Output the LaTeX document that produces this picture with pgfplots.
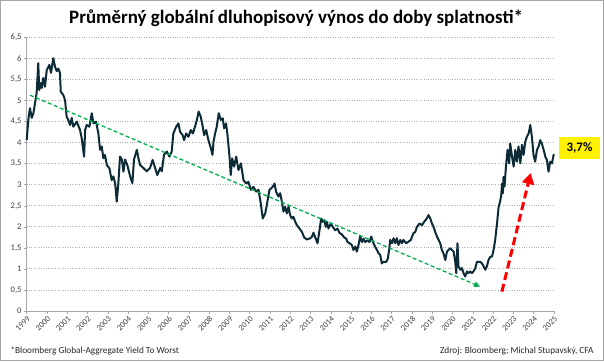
\documentclass[border=0pt]{standalone}
\usepackage{pgfplots}
\pgfplotsset{compat=1.18}
\usepackage{fontspec}
\setmainfont{Carlito}
\usetikzlibrary{arrows.meta}
\definecolor{linec}{RGB}{13,43,54}
\definecolor{gridc}{RGB}{175,175,175}
\definecolor{axc}{RGB}{166,166,166}
\definecolor{txtc}{RGB}{64,64,64}
\definecolor{grn}{RGB}{0,176,80}
\begin{document}
\begin{tikzpicture}[x=1bp,y=1bp]
\path[use as bounding box] (0,0) rectangle (604,361);
\draw[axc,line width=1bp] (0.5,0.5) rectangle (603.5,360.5);
\node[font=\fontsize{19}{22}\selectfont\bfseries] at (296,343) {Průměrný globální dluhopisový výnos do doby splatnosti*};
\node[anchor=west,font=\fontsize{9.3}{11}\selectfont,text=black!85] at (7,9.5) {*Bloomberg Global-Aggregate Yield To Worst};
\node[anchor=east,font=\fontsize{9.3}{11}\selectfont,text=black!85] at (597,9.5) {Zdroj: Bloomberg; Michal Stupavský, CFA};
\begin{axis}[
  at={(26.7bp,50bp)}, anchor=south west,
  scale only axis, width=527.3bp, height=273.5bp,
  xmin=1999, xmax=2025, ymin=0, ymax=6.5,
  axis lines*=left, axis line style={axc,line width=0.8bp},
  xtick={1999,...,2025}, ytick={0,0.5,...,6.5},
  tick align=outside, major tick length=3bp,
  tick style={axc,line width=0.6bp},
  ymajorgrids, major grid style={gridc,dotted,line width=0.9bp},
  /pgf/number format/assume math mode=true,
  /pgf/number format/use comma,
  xticklabel style={/pgf/number format/1000 sep={},rotate=45,anchor=north east,font=\fontsize{8.3}{9}\selectfont,text=txtc,inner sep=1bp},
  yticklabel style={/pgf/number format/fixed,font=\fontsize{8.6}{9}\selectfont,text=txtc,inner sep=2bp},
  clip=false,
]
\addplot[linec,line width=2bp,line join=round] table {
1999.00 4.06
1999.08 4.54
1999.16 4.82
1999.25 4.59
1999.33 4.70
1999.41 4.94
1999.49 5.18
1999.57 5.89
1999.62 5.25
1999.69 5.42
1999.74 5.30
1999.82 5.54
1999.90 5.33
1999.99 5.73
2000.12 5.85
2000.20 5.66
2000.31 6.01
2000.40 5.80
2000.48 5.70
2000.56 5.76
2000.64 5.66
2000.68 5.21
2000.81 5.13
2000.89 5.01
2000.97 4.62
2001.05 4.54
2001.14 4.42
2001.22 4.59
2001.30 4.38
2001.47 4.50
2001.63 4.30
2001.71 4.11
2001.83 3.67
2001.88 4.30
2001.96 4.42
2002.09 4.38
2002.21 4.70
2002.29 4.46
2002.42 4.50
2002.53 4.23
2002.62 3.83
2002.70 3.91
2002.78 3.63
2002.86 3.71
2002.95 3.47
2003.08 3.39
2003.19 3.11
2003.27 3.20
2003.36 3.04
2003.44 2.60
2003.52 3.04
2003.60 3.67
2003.69 3.60
2003.77 3.31
2003.85 3.60
2003.96 3.47
2004.10 3.20
2004.21 3.04
2004.29 3.60
2004.43 3.83
2004.51 3.63
2004.59 3.47
2004.75 3.40
2004.92 3.32
2005.08 3.40
2005.21 3.59
2005.33 3.40
2005.44 3.23
2005.58 3.40
2005.66 3.32
2005.77 3.71
2005.91 3.79
2006.04 3.67
2006.15 3.79
2006.23 4.22
2006.37 4.38
2006.48 4.46
2006.56 4.26
2006.69 4.18
2006.76 4.06
2006.86 4.22
2006.97 4.14
2007.09 4.30
2007.19 4.22
2007.30 4.38
2007.39 4.54
2007.48 4.74
2007.58 4.62
2007.68 4.38
2007.75 4.18
2007.85 4.30
2007.96 4.06
2008.08 3.87
2008.16 3.71
2008.21 4.02
2008.29 4.22
2008.37 4.38
2008.47 4.70
2008.57 4.54
2008.67 4.58
2008.73 4.34
2008.83 4.46
2008.90 4.18
2009.00 3.67
2009.06 3.23
2009.13 3.63
2009.23 3.43
2009.33 3.67
2009.44 3.35
2009.56 3.51
2009.69 3.11
2009.82 3.03
2009.93 3.07
2010.05 2.88
2010.18 2.95
2010.31 2.84
2010.43 2.88
2010.54 2.56
2010.64 2.20
2010.76 2.32
2010.84 2.52
2010.97 2.88
2011.13 2.95
2011.22 3.03
2011.30 2.83
2011.41 2.72
2011.50 2.80
2011.58 2.60
2011.66 2.36
2011.74 2.48
2011.83 2.32
2011.91 2.48
2011.99 2.28
2012.07 2.20
2012.15 2.24
2012.24 2.12
2012.32 2.04
2012.45 1.96
2012.57 1.88
2012.68 1.75
2012.81 1.70
2012.94 1.72
2013.06 1.76
2013.14 1.86
2013.22 1.76
2013.34 1.61
2013.44 1.93
2013.52 2.20
2013.60 2.12
2013.67 2.16
2013.75 2.00
2013.80 2.12
2013.88 1.96
2014.00 2.08
2014.09 2.00
2014.21 1.92
2014.32 1.96
2014.42 1.86
2014.54 1.82
2014.65 1.75
2014.75 1.72
2014.82 1.64
2014.92 1.61
2015.03 1.57
2015.11 1.45
2015.20 1.53
2015.28 1.41
2015.36 1.57
2015.44 1.77
2015.53 1.64
2015.61 1.72
2015.69 1.64
2015.80 1.68
2015.90 1.64
2015.99 1.77
2016.07 1.64
2016.18 1.53
2016.27 1.45
2016.35 1.37
2016.43 1.33
2016.51 1.13
2016.59 1.17
2016.73 1.17
2016.81 1.25
2016.89 1.53
2016.92 1.69
2017.01 1.61
2017.09 1.73
2017.17 1.61
2017.25 1.73
2017.33 1.57
2017.42 1.69
2017.50 1.61
2017.58 1.69
2017.71 1.61
2017.83 1.65
2017.94 1.69
2018.07 1.85
2018.16 1.88
2018.24 2.00
2018.37 2.08
2018.49 2.04
2018.60 2.12
2018.73 2.20
2018.81 2.28
2018.90 2.20
2018.98 2.08
2019.06 2.00
2019.14 1.88
2019.23 1.77
2019.31 1.69
2019.39 1.61
2019.47 1.45
2019.55 1.37
2019.64 1.21
2019.72 1.41
2019.80 1.45
2019.88 1.49
2019.97 1.45
2020.05 1.41
2020.13 1.17
2020.18 0.90
2020.24 1.61
2020.29 1.06
2020.38 0.98
2020.46 1.02
2020.54 0.90
2020.62 0.82
2020.71 0.94
2020.79 0.90
2020.87 0.94
2020.95 0.90
2021.03 0.94
2021.12 1.02
2021.20 1.17
2021.28 1.17
2021.36 1.17
2021.45 1.13
2021.53 1.06
2021.61 0.98
2021.69 1.06
2021.77 1.21
2021.86 1.29
2021.94 1.29
2022.02 1.45
2022.10 1.69
2022.19 2.08
2022.27 2.48
2022.32 2.56
2022.39 2.72
2022.44 3.03
2022.48 2.80
2022.51 3.19
2022.56 2.96
2022.63 3.43
2022.71 3.83
2022.79 3.51
2022.84 3.98
2022.93 3.67
2023.01 3.43
2023.09 3.83
2023.17 3.55
2023.25 3.91
2023.34 3.51
2023.42 3.95
2023.50 3.71
2023.58 4.02
2023.66 4.14
2023.75 4.22
2023.83 4.42
2023.91 4.14
2023.99 3.71
2024.07 3.55
2024.16 3.83
2024.24 3.91
2024.32 4.06
2024.40 3.98
2024.49 3.83
2024.57 3.67
2024.65 3.59
2024.73 3.31
2024.81 3.55
2024.90 3.51
2024.98 3.71
2025.02 3.72
};
\addplot[grn,line width=1.3bp,dash pattern=on 4bp off 2.5bp,-{Triangle[length=6bp,width=5.5bp]}] coordinates {(1999.16,5.13) (2021.36,0.58)};
\addplot[red,line width=3bp,dash pattern=on 8bp off 4bp,-{Triangle[length=11bp,width=12bp]}] coordinates {(2022.43,0.46) (2023.85,3.28)};
\end{axis}
\node[fill=yellow,minimum width=41bp,minimum height=22bp,inner sep=0pt,font=\fontsize{13}{15}\selectfont\bfseries] at (579.5,213) {3,7\%};
\end{tikzpicture}
\end{document}
